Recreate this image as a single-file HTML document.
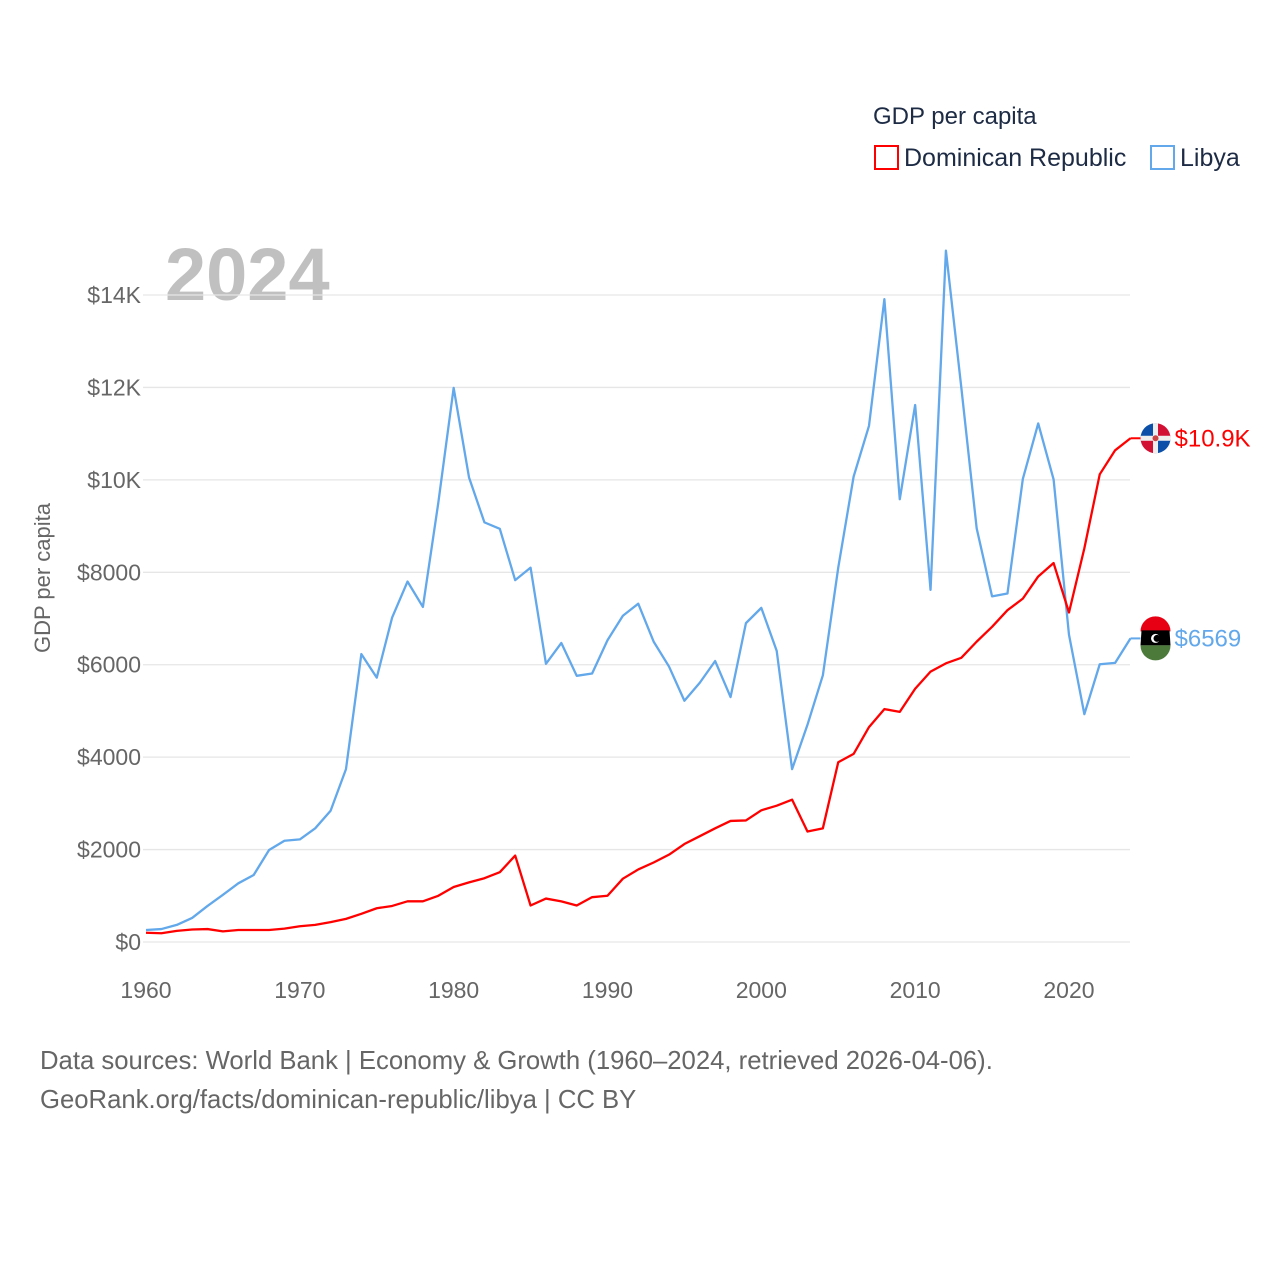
<!DOCTYPE html>
<html><head><meta charset="utf-8"><style>
body{margin:0;background:#fff;width:1280px;height:1280px;overflow:hidden;font-family:"Liberation Sans",sans-serif}
svg text{font-family:"Liberation Sans",sans-serif}
</style></head><body>
<svg id="c" width="1280" height="1280">
<defs><clipPath id="dc"><circle cx="0" cy="0" r="15"/></clipPath></defs>
<text x="873" y="124" font-size="24" fill="#1d2b45">GDP per capita</text>
<g>
<rect x="875" y="146" width="23" height="23" fill="none" stroke="#f00" stroke-width="2"/>
<text x="904" y="166" font-size="25" fill="#1d2b45">Dominican Republic</text></g>
<g>
<rect x="1151" y="146" width="23" height="23" fill="none" stroke="#62a8ea" stroke-width="2"/>
<text x="1180" y="166" font-size="25" fill="#1d2b45">Libya</text></g>
<text x="165" y="300" font-size="74" font-weight="bold" fill="#c0c0c0">2024</text>
<text transform="translate(50,578) rotate(-90)" text-anchor="middle" font-size="22" fill="#666">GDP per capita</text>
<g id="grid"></g><g id="lines"></g>
<text x="40" y="1069" font-size="25.7" fill="#666">Data sources: World Bank | Economy &amp; Growth (1960–2024, retrieved 2026-04-06).</text>
<text x="40" y="1108" font-size="25.7" fill="#666">GeoRank.org/facts/dominican-republic/libya | CC BY</text>
</svg>
<script>
const years=[];for(let y=1960;y<=2024;y++)years.push(y);
const libya=[260,280,370,520,780,1020,1270,1450,1990,2190,2220,2460,2840,3740,6230,5720,7020,7800,7250,9500,11990,10050,9080,8940,7830,8100,6020,6470,5760,5810,6530,7060,7320,6500,5960,5220,5610,6080,5300,6900,7230,6300,3740,4700,5770,8100,10070,11170,13910,9580,11620,7620,14960,12000,8950,7480,7540,10020,11220,10010,6650,4930,6010,6040,6569];
const dom=[200,190,240,270,280,230,260,260,260,290,340,370,430,500,610,730,780,880,880,1000,1190,1290,1380,1510,1870,790,940,880,790,970,1000,1370,1570,1720,1890,2120,2290,2460,2620,2630,2850,2950,3080,2390,2460,3890,4070,4650,5040,4980,5480,5850,6030,6150,6500,6820,7180,7430,7910,8200,7130,8520,10120,10640,10900];
const yTicks=[0,2000,4000,6000,8000,10000,12000,14000];
const yTickLabels=["$0","$2000","$4000","$6000","$8000","$10K","$12K","$14K"];
const xTicks=[1960,1970,1980,1990,2000,2010,2020];
const NS="http://www.w3.org/2000/svg";
const X=y=>146+(y-1960)*15.383;
const Y=v=>942-v*0.046214;
function mk(t,a,p){const e=document.createElementNS(NS,t);for(const k in a)e.setAttribute(k,a[k]);p.appendChild(e);return e;}
const g=document.getElementById('grid'),L=document.getElementById('lines');
yTicks.forEach((v,i)=>{
 const l=mk('line',{x1:143,x2:1130,y1:Y(v),y2:Y(v),stroke:'#e6e6e6','stroke-width':1.3},g);
 
 
 const t=mk('text',{x:141,y:Y(v)+8,'text-anchor':'end','font-size':23,fill:'#666'},g);t.textContent=yTickLabels[i];
 
 
});
xTicks.forEach(v=>{
 const t=mk('text',{x:X(v),y:998,'text-anchor':'middle','font-size':23,fill:'#666'},g);t.textContent=v;
 
 
});
function line(d,c,n){
 const p=mk('polyline',{points:d.map((v,i)=>X(years[i])+','+Y(v)).join(' '),fill:'none',stroke:c,'stroke-width':2.3,'stroke-linejoin':'round'},L);
 
 
}
line(libya,'#62a8ea','libya-line');line(dom,'#f00','dominican-republic-line');
function endLabel(d,c,txt,n,flag){
 const v=d[d.length-1],x=X(2024),y=Y(v);
 mk('line',{x1:x,x2:x+10,y1:y,y2:y,stroke:c,'stroke-width':2},L);
 const gg=mk('g',{},L);
 
 
 flag(gg,x+25,y);
 const t=mk('text',{x:x+44,y:y+8,'font-size':24,fill:c},L);t.textContent=txt;
 
 
}
endLabel(dom,'#f00','$10.9K','dominican-republic',(p,cx,cy)=>{
 const r=15;
 const q=mk('g',{transform:`translate(${cx},${cy})`,'clip-path':'url(#dc)'},p);
 mk('rect',{x:-r,y:-r,width:r,height:r,fill:'#0b4fa8'},q);mk('rect',{x:0,y:-r,width:r,height:r,fill:'#d21034'},q);
 mk('rect',{x:-r,y:0,width:r,height:r,fill:'#d21034'},q);mk('rect',{x:0,y:0,width:r,height:r,fill:'#0b4fa8'},q);
 mk('rect',{x:-r,y:-2.5,width:2*r,height:5,fill:'#eee'},q);mk('rect',{x:-2.5,y:-r,width:5,height:2*r,fill:'#eee'},q);
 mk('circle',{cx:0,cy:0,r:3,fill:'#c44'},q);
});
endLabel(libya,'#62a8ea','$6569','libya',(p,cx,cy)=>{
 const r=15;
 mk('path',{d:`M${cx-r},${cy-7} A${r},${r} 0 0 1 ${cx+r},${cy-7} Z`,fill:'#e70013'},p);
 mk('path',{d:`M${cx-r+1},${cy-8} L${cx+r-1},${cy-8} L${cx+r},${cy+7} L${cx-r},${cy+7} Z`,fill:'#000'},p);
 mk('path',{d:`M${cx-r},${cy+7} L${cx+r},${cy+7} A${r},${r} 0 0 1 ${cx-r},${cy+7} Z`,fill:'#4b7a3a'},p);
 mk('circle',{cx:cx,cy:cy,r:4.5,fill:'#fff'},p);mk('circle',{cx:cx+1.5,cy:cy,r:3.5,fill:'#000'},p);
});
</script>
</body></html>
